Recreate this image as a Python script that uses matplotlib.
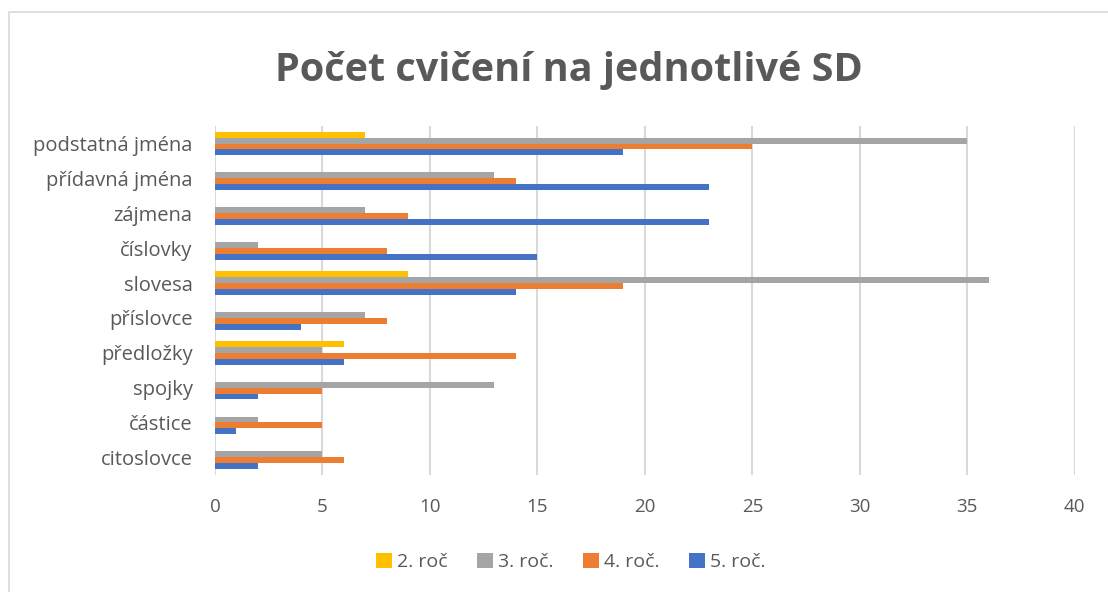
import numpy as np
import matplotlib.pyplot as plt
from matplotlib.patches import Rectangle

plt.rcParams['font.family'] = ['Open Sans', 'DejaVu Sans']

categories = ["podstatná jména", "přídavná jména", "zájmena", "číslovky", "slovesa",
              "příslovce", "předložky", "spojky", "částice", "citoslovce"]
series_names = ["2. roč", "3. roč.", "4. roč.", "5. roč."]
roc2 = [7, 0, 0, 0, 9, 0, 6, 0, 0, 0]
roc3 = [35, 13, 7, 2, 36, 7, 5, 13, 2, 5]
roc4 = [25, 14, 9, 8, 19, 8, 14, 5, 5, 6]
roc5 = [19, 23, 23, 15, 14, 4, 6, 2, 1, 2]
colors = ["#FFC000", "#A5A5A5", "#ED7D31", "#4472C4"]

fig = plt.figure(figsize=(11.08, 5.92), dpi=100)
ax = fig.add_axes([0.194, 0.198, 0.776, 0.589])

# outer chart frame (only left/top edges visible in the reference)
fig.patches.append(Rectangle((9 / 1108, -0.5), 2.0, 1.5 - 12 / 592, transform=fig.transFigure,
                             fill=False, edgecolor="#d9d9d9", linewidth=1.2))

y = np.arange(len(categories))
h = 0.17
for i, (vals, name, c) in enumerate(zip([roc2, roc3, roc4, roc5], series_names, colors)):
    ax.barh(y + (i - 1.5) * h, vals, height=h, color=c, label=name, zorder=3)

ax.set_ylim(len(categories) - 0.5, -0.5)
ax.set_xlim(0, 40)
ax.set_xticks(range(0, 41, 5))
ax.set_yticks(y)
ax.set_yticklabels(categories)
ax.tick_params(axis="y", length=0, pad=16, labelsize=14.5, labelcolor="#595959")
ax.tick_params(axis="x", length=0, pad=17, labelsize=13.5, labelcolor="#595959")
ax.grid(axis="x", color="#d9d9d9", linewidth=1.5, zorder=0)
for s in ax.spines.values():
    s.set_visible(False)

fig.text(0.513, 1 - 70 / 592, "Počet cvičení na jednotlivé SD", ha="center", va="center",
         fontsize=28.5, fontweight="bold", color="#595959")
fig.legend(loc="center", bbox_to_anchor=(0.515, 0.051), ncol=4, frameon=False,
           fontsize=14, labelcolor="#595959", handlelength=0.85, handleheight=0.85,
           handletextpad=0.25, columnspacing=1.5)

fig.savefig("out.png", dpi=100)
